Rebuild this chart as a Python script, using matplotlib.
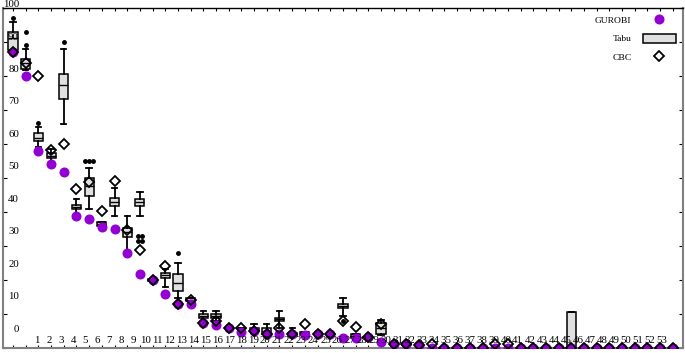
import matplotlib
matplotlib.use("Agg")
import matplotlib.pyplot as plt
from matplotlib.lines import Line2D
from matplotlib.patches import Patch
from matplotlib.transforms import blended_transform_factory

# ---------------- data ----------------
instances = list(range(1, 54))

gurobi = [87.0, 80.0, 57.9, 54.0, 51.9, 38.7, 38.0, 35.7, 35.0, 27.9,
          21.9, 20.0, 15.8, 12.9, 13.0, 7.5, 6.8, 6.0, 4.8, 5.0,
          4.0, 4.0, 4.0, 3.8, 4.0, 4.0, 3.0, 3.0, 3.2, 1.9,
          1.1, 1.1, 0.9, 0.1, 0, 0, 0, 0, 0, 0,
          0, 0, 0, 0, 0, 0, 0, 0, 0, 0,
          0, 0, 0]

cbc = [87.0, 83.8, 80.0, 58.1, 59.9, 46.8, 48.8, 40.2, 49.0, 34.7,
       28.9, 20.0, 24.1, 13.0, 14.2, 7.5, 7.8, 6.0, 6.0, 5.0,
       4.2, 6.0, 4.0, 7.0, 4.0, 4.0, 7.8, 6.2, 3.2, 7.1,
       1.1, 1.1, 0.9, 1.3, 0, 0, 0, 0, 1.1, 1.3,
       0, 0, 0, 0, 0, 0, 0, 0, 0, 0,
       0, 0, 0]

tabu_q1 = [87.6, 82.2, 60.8, 56.0, 73.1, 40.9, 44.8, 35.8, 41.7, 32.7,
           41.7, 19.8, 20.7, 16.8, 13.9, 8.8, 8.8, 6.0, 6.0, 5.0,
           4.0, 7.8, 3.5, 3.8, 4.0, 4.0, 11.7, 3.0, 3.2, 4.2,
           1.1, 1.0, 0.9, 0, 0, 0, 0, 0, 0, 0,
           0, 0, 0, 0, 0, 0, 0, 0, 0, 0,
           0, 0, 0]
tabu_med = [91.3, 83.8, 61.9, 56.6, 77.5, 41.5, 47.6, 36.4, 42.9, 34.0,
            42.8, 20.0, 21.4, 19.0, 14.2, 9.4, 9.4, 6.0, 6.0, 5.4,
            5.0, 8.4, 4.0, 4.3, 4.0, 4.0, 12.3, 3.6, 3.2, 6.0,
            1.1, 1.1, 0.9, 0, 0, 0, 0, 0, 0, 0,
            0, 0, 0, 0, 0, 0, 0, 0, 0, 0,
            0, 0, 0]
tabu_q3 = [93.0, 84.9, 63.1, 57.3, 80.5, 42.1, 49.9, 37.0, 44.0, 35.4,
           43.9, 20.3, 22.0, 21.7, 14.6, 9.9, 9.9, 6.0, 6.0, 5.9,
           5.8, 8.9, 4.5, 4.8, 4.0, 4.0, 12.9, 4.2, 3.2, 7.5,
           1.1, 1.3, 0.9, 0, 0, 0, 0, 0, 0, 0,
           0, 0, 0, 0, 10.7, 0, 0, 0, 0, 0,
           0, 0, 0]
tabu_lo = [86.8, 81.7, 59.0, 54.0, 65.8, 38.9, 40.9, 35.8, 38.9, 27.6,
           38.9, 19.8, 17.8, 14.8, 13.9, 7.5, 7.8, 6.0, 6.0, 5.0,
           4.0, 6.0, 3.5, 3.8, 4.0, 4.0, 9.4, 3.0, 3.2, 3.8,
           1.1, 1.0, 0.9, 0, 0, 0, 0, 0, 0, 0,
           0, 0, 0, 0, 0, 0, 0, 0, 0, 0,
           0, 0, 0]
tabu_hi = [96.0, 87.8, 64.9, 58.6, 87.9, 43.7, 52.9, 37.0, 47.0, 38.9,
           46.0, 20.3, 23.2, 24.9, 14.6, 10.9, 10.9, 6.0, 6.0, 7.0,
           7.0, 10.9, 5.8, 4.8, 4.0, 4.0, 14.8, 4.2, 3.2, 8.3,
           1.1, 1.3, 0.9, 0, 0, 0, 0, 0, 0, 0,
           0, 0, 0, 0, 10.7, 0, 0, 0, 0, 0,
           0, 0, 0]

# Tabu outliers: instance -> values (repeated values are drawn side by side)
tabu_outliers = {1: [97.2], 2: [89.1, 93.0], 3: [66.1], 5: [89.9],
                 7: [54.9, 54.9, 54.9], 11: [33.0, 33.0, 31.6, 31.6],
                 14: [27.9], 27: [7.8]}

y_tick_values = list(range(0, 101, 10))
x_tick_labels = [str(i) for i in range(1, 54)]

series_names = ["GUROBI", "Tabu", "CBC"]

# ---------------- style ----------------
PURPLE = "#9400d3"
BOXGRAY = "#e0e0e0"
SERIF = "Liberation Serif"

fig = plt.figure(figsize=(6.85, 3.53), dpi=100)
ax = fig.add_axes([3 / 685, 5 / 353, 680 / 685, 340 / 353])
ax.set_xlim(0.21, 53.8)
ax.set_ylim(0, 100)

# GUROBI points
ax.plot(instances, gurobi, ls="none", marker="o", ms=6.2, color=PURPLE,
        mec=PURPLE, zorder=3)

# Tabu boxes
stats = []
for i, k in enumerate(instances):
    stats.append(dict(med=tabu_med[i], q1=tabu_q1[i], q3=tabu_q3[i],
                      whislo=tabu_lo[i], whishi=tabu_hi[i], fliers=[]))
ax.bxp(stats, positions=instances, widths=0.72, patch_artist=True,
       showfliers=False, manage_ticks=False,
       boxprops=dict(facecolor=BOXGRAY, edgecolor="black", linewidth=1.1),
       medianprops=dict(color="black", linewidth=1.0),
       whiskerprops=dict(color="black", linewidth=1.3),
       capprops=dict(color="black", linewidth=1.3),
       capwidths=0.42, zorder=2)

# outliers, repeated values spread horizontally
for k, vals in tabu_outliers.items():
    uniq = sorted(set(vals))
    for v in uniq:
        n = vals.count(v)
        xs = [k + (j - (n - 1) / 2) * 0.3 for j in range(n)]
        ax.plot(xs, [v] * n, ls="none", marker="o", ms=2.5, color="black",
                zorder=2.5)

# CBC diamonds
ax.plot(instances, cbc, ls="none", marker="D", ms=5.6, mfc="none",
        mec="black", mew=1.3, zorder=4)

# ---------------- axes ----------------
for side in ["left", "bottom", "right"]:
    ax.spines[side].set_color("#808080")
    ax.spines[side].set_linewidth(1.5)
ax.spines["top"].set_color("black")
ax.spines["top"].set_linewidth(1.0)

ax.set_xticks(instances)
ax.set_xticklabels([])
ax.set_yticks(y_tick_values)
ax.set_yticklabels([])
ax.tick_params(axis="x", direction="in", length=2.5, width=0.8,
               top=True, bottom=True)
ax.tick_params(axis="y", direction="in", length=3, width=0.8,
               left=True, right=True)

# tick label text (offset from ticks as in the original rendering)
ty = blended_transform_factory(ax.transAxes, ax.transData)
for v in y_tick_values:
    ax.text(0.0235, 5.52 + 0.955 * v, str(v), transform=ty, ha="right",
            va="center", fontsize=7.8, family=SERIF, clip_on=False)
tx = blended_transform_factory(ax.transData, ax.transAxes)
for i, lab in enumerate(x_tick_labels):
    ax.text(2.891 + 0.9472 * i, 0.0235, lab, transform=tx, ha="center",
            va="center", fontsize=7.8, family=SERIF)

# legend
handles = [Line2D([], [], ls="none", marker="o", ms=6.2, color=PURPLE),
           Patch(facecolor=BOXGRAY, edgecolor="black", linewidth=1.1),
           Line2D([], [], ls="none", marker="D", ms=5.6, mfc="none",
                  mec="black", mew=1.3)]
ax.legend(handles, series_names, loc="upper right",
          bbox_to_anchor=(676 / 685, (353 - 15) / 353),
          bbox_transform=fig.transFigure, frameon=False, markerfirst=False,
          prop={"family": SERIF, "size": 6.8}, handlelength=3.5,
          handleheight=1.1, handletextpad=1.2, labelspacing=0.95,
          borderpad=0, borderaxespad=0)

fig.savefig("out.png", dpi=100)
